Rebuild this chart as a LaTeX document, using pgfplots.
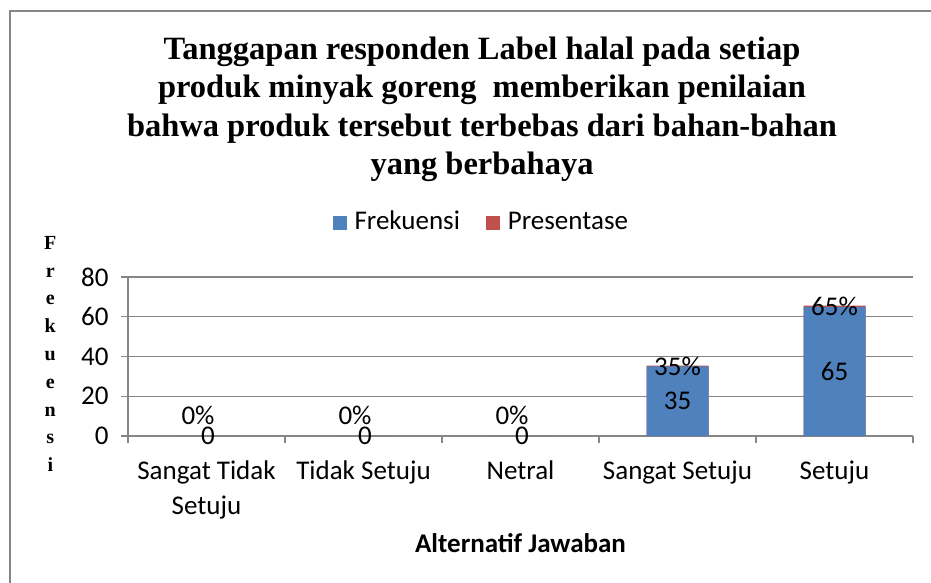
\documentclass[border=0pt]{standalone}
\usepackage{fontspec}
\setmainfont{Carlito}
\newfontfamily\timesfont{Liberation Serif}
\usepackage{pgfplots}
\usepackage{pgfplotstable}
\pgfplotsset{compat=1.18}
\definecolor{frek}{HTML}{4F81BD}
\definecolor{pres}{HTML}{C0504D}
\definecolor{gridgray}{HTML}{868686}

% kategori: 0 Sangat Tidak Setuju, 1 Tidak Setuju, 2 Netral, 3 Sangat Setuju, 4 Setuju
\pgfplotstableread{
x freq pres
0 0  0
1 0  0
2 0  0
3 35 0.35
4 65 0.65
}\datatab

\newcommand{\calsize}{\fontsize{27bp}{35bp}\selectfont}

\begin{document}
\begin{tikzpicture}[x=1bp,y=1bp]
\useasboundingbox (0,0) rectangle (931,-583);
\draw[gridgray, line width=2bp] (9.5,-583) -- (9.5,-11.5) -- (931,-11.5);
\begin{axis}[
  at={(128bp,-436bp)}, anchor=south west,
  scale only axis, width=785bp, height=159bp,
  xmin=-0.5, xmax=4.5, ymin=0, ymax=80,
  ytick={0,20,...,80},
  xtick={-0.5,0.5,...,4.5},
  xticklabels={},
  extra x ticks={0,1,2,3,4},
  extra x tick labels={Sangat Tidak\\Setuju, Tidak Setuju, Netral, Sangat Setuju, Setuju},
  extra x tick style={major tick length=0pt,
    tick label style={align=center, font=\calsize, yshift=-21bp}},
  tick align=outside, major tick length=7bp,
  axis x line*=bottom, axis y line*=left,
  axis line style={gridgray, line width=1.2bp, -},
  tick style={gridgray, line width=1.2bp},
  ymajorgrids, grid style={gridgray, line width=1.2bp},
  tick label style={font=\calsize},
  y tick label style={xshift=-9bp},
  /pgf/number format/assume math mode=true,
  title={Tanggapan responden Label halal pada setiap\\produk minyak goreng\ \ memberikan penilaian\\bahwa produk tersebut terbebas dari bahan-bahan\\yang berbahaya},
  title style={at={(axis description cs:0.451,2.016)}, anchor=center, align=center,
    font=\timesfont\bfseries\fontsize{32.5bp}{38.4bp}\selectfont},
  xlabel={Alternatif Jawaban},
  xlabel style={at={(axis description cs:0.5,-0.673)}, anchor=center, font=\calsize\bfseries},
  ylabel={F\\r\\e\\k\\u\\e\\n\\s\\i},
  ylabel style={rotate=-90, at={(axis description cs:-0.099,0.516)}, anchor=center, align=center,
    font=\timesfont\bfseries\fontsize{20bp}{27.8bp}\selectfont},
  legend style={at={(axis description cs:0.45,1.34)}, anchor=center, draw=none, fill=none,
    legend columns=2, font=\calsize, nodes={text height=19bp, text depth=6bp},
    /tikz/every odd column/.append style={column sep=6bp},
    /tikz/every even column/.append style={column sep=24bp}},
  reverse legend,
]
\addplot[ybar, bar width=62bp, bar shift=0pt, draw=none, fill=pres,
  legend image code/.code={\fill[pres] (0bp,-7bp) rectangle (14bp,7bp);}]
  table[x=x, y expr=\thisrow{freq}+\thisrow{pres}] {\datatab};
\addlegendentry{Presentase}
\addplot[ybar, bar width=62bp, bar shift=0pt, draw=none, fill=frek,
  legend image code/.code={\fill[frek] (0bp,-7bp) rectangle (14bp,7bp);}]
  table[x=x, y=freq] {\datatab};
\addlegendentry{Frekuensi}
% label data
\addplot[draw=none, mark=none, forget plot, nodes near coords, point meta=explicit symbolic,
  every node near coord/.append style={anchor=center, inner sep=0pt, font=\calsize}]
  coordinates {(0.01,0)[0] (1.01,0)[0] (2.01,0)[0] (3,17.5)[35] (4,32.5)[65]};
\addplot[draw=none, mark=none, forget plot, nodes near coords, point meta=explicit symbolic,
  every node near coord/.append style={anchor=center, inner sep=0pt, font=\calsize}]
  coordinates {(-0.054,10.5)[0\%] (0.946,10.5)[0\%] (1.946,10.5)[0\%] (3,35.2)[35\%] (4,65.3)[65\%]};
\end{axis}
\end{tikzpicture}
\end{document}
